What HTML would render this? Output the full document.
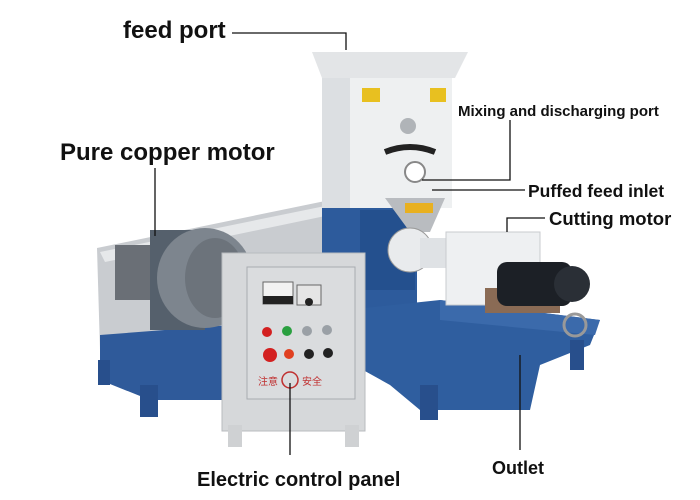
<!DOCTYPE html>
<html><head><style>
html,body{margin:0;padding:0;background:#fff}
svg{display:block}
text{font-family:"Liberation Sans","DejaVu Sans",sans-serif;fill:#111}
</style></head><body>
<svg width="700" height="500" viewBox="0 0 700 500" xmlns="http://www.w3.org/2000/svg">
<polygon points="97,248 330,200 345,205 345,330 100,350" fill="#c9ccd0"/>
<polygon points="100,252 330,205 330,215 105,262" fill="#e6e8ea"/>
<polygon points="100,335 230,325 245,360 240,400 150,400 100,380" fill="#2f5a9a"/>
<rect x="140" y="385" width="18" height="32" fill="#284f8c"/>
<rect x="98" y="360" width="12" height="25" fill="#284f8c"/>
<rect x="322" y="200" width="95" height="120" fill="#2d5b9c"/>
<rect x="360" y="210" width="55" height="80" fill="#24508e"/>
<polygon points="345,310 440,300 600,320 590,345 540,365 530,410 420,410 390,385 345,360" fill="#2f5e9f"/>
<polygon points="440,300 600,320 595,335 440,320" fill="#3b6aab"/>
<rect x="420" y="385" width="18" height="35" fill="#284f8c"/>
<rect x="570" y="340" width="14" height="30" fill="#284f8c"/>
<polygon points="312,52 468,52 455,78 322,78" fill="#e3e5e7"/>
<rect x="322" y="78" width="130" height="130" fill="#eef0f1"/>
<rect x="322" y="78" width="28" height="130" fill="#dcdfe2"/>
<rect x="362" y="88" width="18" height="14" fill="#e8c020"/>
<rect x="430" y="88" width="16" height="14" fill="#e8c020"/>
<circle cx="408" cy="126" r="8" fill="#b0b4b8"/>
<path d="M385,152 Q410,142 435,152" stroke="#222" stroke-width="6" fill="none"/>
<circle cx="415" cy="172" r="10" fill="#fff" stroke="#888" stroke-width="2"/>
<polygon points="385,198 445,198 430,232 410,232" fill="#b9bcc0"/>
<rect x="405" y="203" width="28" height="10" fill="#e8b020"/>
<circle cx="410" cy="250" r="22" fill="#e9ebed" stroke="#999"/>
<rect x="420" y="238" width="30" height="30" fill="#dfe2e5"/>
<rect x="446" y="232" width="94" height="73" fill="#eef0f2" stroke="#c8cbcf"/>
<rect x="485" y="288" width="75" height="25" fill="#8a6b55"/>
<rect x="497" y="262" width="75" height="44" rx="10" fill="#1c2026"/>
<circle cx="572" cy="284" r="18" fill="#2a2f36"/>
<circle cx="575" cy="325" r="11" fill="none" stroke="#999" stroke-width="3"/>
<rect x="115" y="245" width="40" height="55" fill="#6a6f76"/>
<rect x="150" y="230" width="55" height="100" fill="#55606c"/>
<ellipse cx="205" cy="278" rx="48" ry="50" fill="#7d858e"/>
<ellipse cx="215" cy="278" rx="30" ry="40" fill="#6c737b"/>
<rect x="222" y="253" width="143" height="178" fill="#d6d8da" stroke="#b8bbbf"/>
<rect x="247" y="267" width="108" height="132" fill="#dadcde" stroke="#a8abb0"/>
<rect x="263" y="282" width="30" height="22" fill="#f2f2f2" stroke="#666"/>
<rect x="263" y="296" width="30" height="8" fill="#222"/>
<rect x="297" y="285" width="24" height="20" fill="#e5e5e5" stroke="#666"/>
<circle cx="309" cy="302" r="4" fill="#222"/>
<circle cx="267" cy="332" r="5" fill="#d32020"/>
<circle cx="287" cy="331" r="5" fill="#2aa040"/>
<circle cx="307" cy="331" r="5" fill="#9aa0a6"/>
<circle cx="327" cy="330" r="5" fill="#9aa0a6"/>
<circle cx="270" cy="355" r="7" fill="#d32020"/>
<circle cx="289" cy="354" r="5" fill="#e04020"/>
<circle cx="309" cy="354" r="5" fill="#222"/>
<circle cx="328" cy="353" r="5" fill="#222"/>
<circle cx="290" cy="380" r="8" fill="none" stroke="#c03030" stroke-width="1.5"/>
<text x="258" y="385" font-size="10" style="fill:#c03030;font-family:'Liberation Sans','Noto Sans CJK SC',sans-serif">注意</text>
<text x="302" y="385" font-size="10" style="fill:#c03030;font-family:'Liberation Sans','Noto Sans CJK SC',sans-serif">安全</text>
<rect x="228" y="425" width="14" height="22" fill="#cfd1d3"/>
<rect x="345" y="425" width="14" height="22" fill="#cfd1d3"/>
<g stroke="#111" stroke-width="1.3" fill="none">
<polyline points="232,33 346,33 346,50"/>
<polyline points="510,120 510,180 422,180"/>
<line x1="155" y1="168" x2="155" y2="236"/>
<line x1="432" y1="190" x2="525" y2="190"/>
<polyline points="545,218 507,218 507,232"/>
<line x1="290" y1="383" x2="290" y2="455"/>
<line x1="520" y1="355" x2="520" y2="450"/>
</g>
<text x="123" y="38" font-size="24" font-weight="bold">feed port</text>
<text x="458" y="116" font-size="15" font-weight="bold">Mixing and discharging port</text>
<text x="60" y="160" font-size="24" font-weight="bold">Pure copper motor</text>
<text x="528" y="197" font-size="17.5" font-weight="bold">Puffed feed inlet</text>
<text x="549" y="225" font-size="18.5" font-weight="bold">Cutting motor</text>
<text x="197" y="486" font-size="20" font-weight="bold">Electric control panel</text>
<text x="492" y="474" font-size="18" font-weight="bold">Outlet</text>
</svg>
</body></html>
